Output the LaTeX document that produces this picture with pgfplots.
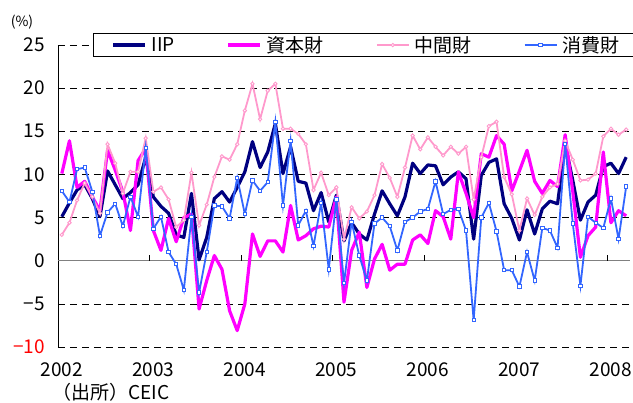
\documentclass[border=0pt]{standalone}
\usepackage{fontspec}
\setmainfont{Noto Sans CJK JP}
\usepackage{pgfplots}
\usepackage{pgfplotstable}
\pgfplotsset{compat=1.18}
\definecolor{iipc}{RGB}{0,0,128}
\definecolor{capc}{RGB}{255,0,255}
\definecolor{intc}{RGB}{255,153,204}
\definecolor{conc}{RGB}{51,102,255}
\newcommand\f{\fontsize{19bp}{22bp}\selectfont}
\pgfplotstableread{
m iip cap int con
0.5 5.1 10.1 3.0 8.1
1.5 6.7 13.9 4.4 6.8
2.5 8.2 8.5 7.0 10.6
3.5 8.8 9.2 9.0 10.8
4.5 7.2 7.4 7.4 8.0
5.5 5.1 5.8 5.5 2.9
6.5 10.4 12.8 13.5 5.6
7.5 8.8 10.5 11.3 6.6
8.5 7.2 8.0 7.8 4.0
9.5 7.9 3.5 10.3 7.4
10.5 8.8 11.6 10.3 5.1
11.5 12.0 13.0 14.2 13.1
12.5 7.4 3.5 8.0 3.7
13.5 6.3 1.2 8.5 5.1
14.5 5.5 4.9 7.1 1.0
15.5 3.0 2.2 3.9 -0.4
16.5 2.7 5.0 4.7 -3.4
17.5 7.8 5.4 10.2 5.1
18.5 0.1 -5.6 4.1 -3.7
19.5 2.7 -2.3 6.5 1.0
20.5 7.2 0.6 9.7 6.4
21.5 8.0 -1.0 12.1 6.3
22.5 6.8 -5.8 11.7 4.9
23.5 8.5 -8.1 13.5 9.6
24.5 10.3 -5.0 17.4 5.4
25.5 13.8 3.1 20.5 9.3
26.5 10.8 0.5 16.4 8.1
27.5 12.6 2.3 19.7 9.1
28.5 15.9 2.3 20.5 16.1
29.5 10.1 1.0 15.3 6.4
30.5 13.2 6.4 15.3 13.9
31.5 9.2 2.4 14.7 4.1
32.5 9.0 2.9 13.5 5.8
33.5 5.8 3.7 8.2 1.7
34.5 7.9 4.0 10.2 6.7
35.5 4.5 3.9 7.6 -1.0
36.5 7.6 7.4 8.5 7.1
37.5 2.3 -4.8 2.5 -2.6
38.5 4.4 1.2 6.2 4.5
39.5 3.1 3.3 4.9 0.6
40.5 2.4 -3.1 5.7 -2.3
41.5 5.4 0.2 7.6 4.3
42.5 8.1 1.9 11.2 5.0
43.5 6.6 -1.1 9.6 4.0
44.5 5.2 -0.4 7.4 1.2
45.5 7.4 -0.4 10.8 4.5
46.5 11.3 2.4 14.5 5.0
47.5 10.1 3.0 12.9 5.7
48.5 11.1 2.0 14.3 6.0
49.5 11.0 5.8 13.2 9.2
50.5 8.8 5.1 12.2 5.4
51.5 9.7 2.5 13.2 5.9
52.5 10.3 10.3 12.4 6.0
53.5 9.5 7.8 13.2 3.5
54.5 2.5 5.0 7.1 -6.9
55.5 9.9 12.4 12.0 5.0
56.5 11.4 12.0 15.6 6.7
57.5 11.8 14.5 16.1 3.4
58.5 6.6 13.5 9.7 -1.1
59.5 4.9 8.1 7.7 -1.1
60.5 2.4 10.4 3.5 -3.0
61.5 5.9 12.8 7.2 1.0
62.5 3.1 9.2 5.3 -2.3
63.5 6.0 7.8 7.4 3.8
64.5 6.9 9.3 8.5 3.5
65.5 6.6 8.6 8.9 1.5
66.5 13.5 14.6 13.9 13.5
67.5 9.3 8.0 11.7 4.3
68.5 4.7 0.4 9.3 -2.9
69.5 6.8 2.9 9.4 5.1
70.5 7.6 3.9 10.1 4.4
71.5 10.9 12.6 14.4 3.8
72.5 11.3 4.4 15.3 7.2
73.5 10.1 5.8 14.6 2.5
74.5 12.0 5.2 15.2 8.6
}\data
\begin{document}
\begin{tikzpicture}
\useasboundingbox (-58bp,-56bp) rectangle (575bp,347bp);
\begin{axis}[
  at={(0,0)}, anchor=south west,
  scale only axis, width=572bp, height=302bp,
  xmin=0, xmax=75, ymin=-10, ymax=25,
  clip=false,
  axis lines*=left,
  x axis line style={draw=none},
  y axis line style={draw=black, line width=0.8pt},
  major tick length=0pt,
  xtick={0.5,12.5,24.5,36.5,48.5,60.5,72.5},
  xticklabels={2002,2003,2004,2005,2006,2007,2008},
  xticklabel style={font=\f, anchor=center, inner sep=0pt, yshift=-23bp},
  ytick={-10,-5,5,10,15,20,25},
  yticklabels={\textcolor{red}{−10},−5,5,10,15,20,25},
  extra y ticks={0}, extra y tick labels={0},
  extra y tick style={grid style={solid, gray, line width=1.3pt}},
  yticklabel style={font=\f, anchor=east, inner sep=0pt, xshift=-13bp},
  ymajorgrids,
  grid style={black, line width=0.7pt, dash pattern=on 7bp off 5bp},
  legend columns=4,
  legend style={at={(axis description cs:0.0612,1.04)}, anchor=north west,
    draw=black, line width=0.8pt, fill=white, font=\f,
    inner xsep=18bp, inner ysep=1bp,
    /tikz/every odd column/.append style={column sep=3bp},
    /tikz/every even column/.append style={column sep=50bp}},
  legend image code/.code={\draw[mark repeat=2, mark phase=2] plot coordinates {(0bp,0bp) (16bp,0bp) (32bp,0bp)};},
]
\pgfplotsinvokeforeach{12,24,36,48,60,72}{\draw[black, line width=0.8pt] (axis cs:#1,0) -- (axis cs:#1,0.7);}
\addplot[iipc, line width=3.2pt, line join=round] table[x=m,y=iip]{\data};
\addplot[capc, line width=3.2pt, line join=round] table[x=m,y=cap]{\data};
\addplot[intc, line width=1.8pt, mark=*, mark size=1.7pt, mark options={fill=white, draw=intc, line width=0.9pt}] table[x=m,y=int]{\data};
\addplot[conc, line width=1.8pt, mark=square*, mark size=1.7pt, mark options={fill=white, draw=conc, line width=0.9pt}] table[x=m,y=con]{\data};
\legend{IIP,資本財,中間財,消費財}
\end{axis}
\node[font=\fontsize{14bp}{16bp}\selectfont] at (-36bp,325bp) {(\%)};
\node[font=\f, anchor=west, inner sep=0pt] at (-6bp,-45bp) {（出所）CEIC};
\end{tikzpicture}
\end{document}
